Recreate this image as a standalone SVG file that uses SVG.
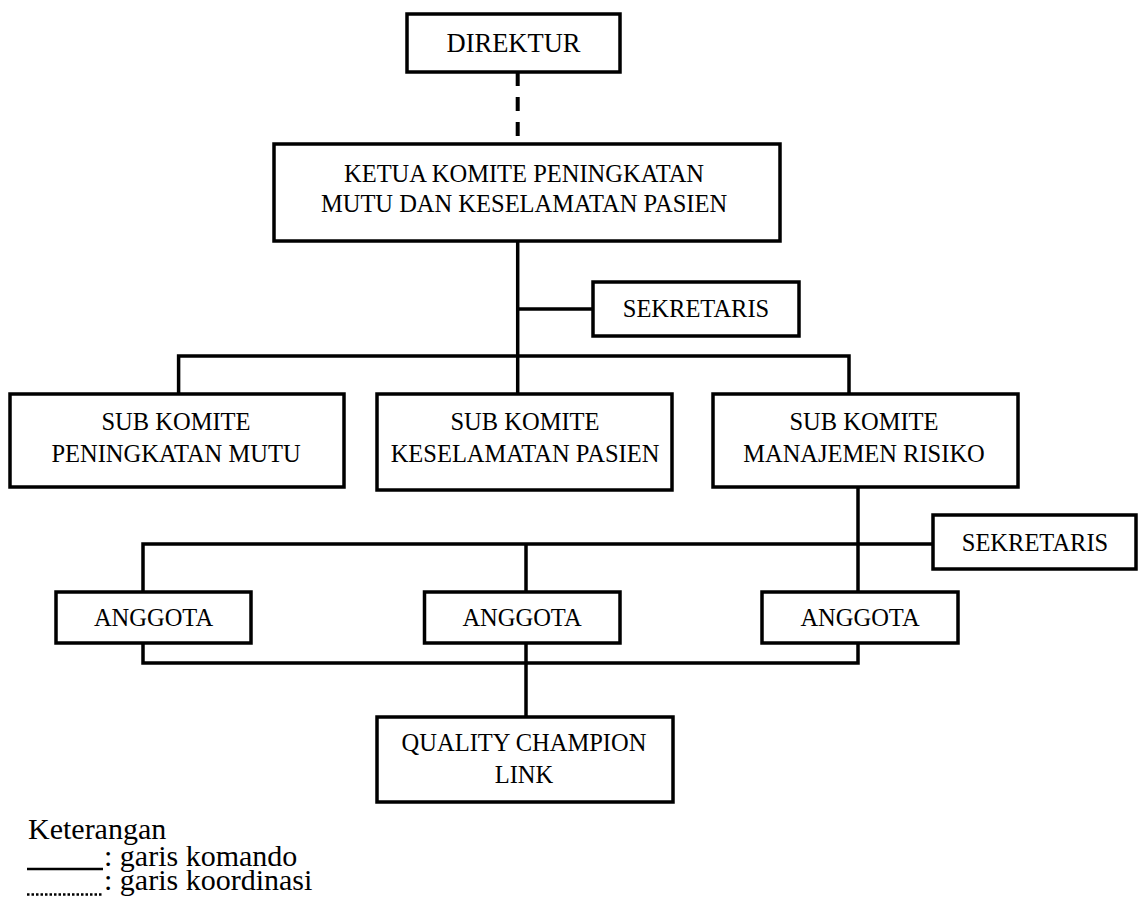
<svg xmlns="http://www.w3.org/2000/svg" width="1138" height="898" viewBox="0 0 1138 898">
<style>
.box{fill:#fff;stroke:#000;stroke-width:3.5}
.ln{fill:none;stroke:#000;stroke-width:3.5;stroke-linecap:butt}
.dash{fill:none;stroke:#000;stroke-width:4;stroke-dasharray:14 11}
.t{font-family:"Liberation Serif","Times New Roman",serif;font-size:24.5px;fill:#000;text-anchor:middle}
.lg{font-family:"Liberation Serif","Times New Roman",serif;font-size:30px;fill:#000}
</style>
<rect width="1138" height="898" fill="#fff"/>
<g id="connectors">
<line class="dash" x1="517.7" y1="72" x2="517.7" y2="144"/>
<line class="ln" x1="517.7" y1="241" x2="517.7" y2="394"/>
<line class="ln" x1="517.7" y1="309" x2="593" y2="309"/>
<polyline class="ln" points="178.6,394 178.6,356 849,356 849,394"/>
<line class="ln" x1="858" y1="487" x2="858" y2="592"/>
<polyline class="ln" points="143,592 143,544 933,544"/>
<line class="ln" x1="526" y1="544" x2="526" y2="592"/>
<polyline class="ln" points="143,643 143,663 858,663 858,643"/>
<line class="ln" x1="526" y1="643" x2="526" y2="717"/>
</g>
<g id="direktur">
<rect class="box" x="407" y="14" width="213" height="58"/>
<text class="t" x="513.5" y="52" style="font-size:26.5px">DIREKTUR</text>
</g>
<g id="ketua">
<rect class="box" x="274" y="144" width="506" height="97"/>
<text class="t" x="524" y="181.7">KETUA KOMITE PENINGKATAN</text>
<text class="t" x="524" y="211.7">MUTU DAN KESELAMATAN PASIEN</text>
</g>
<g id="sekretaris1">
<rect class="box" x="593" y="282" width="206" height="54"/>
<text class="t" x="696" y="317">SEKRETARIS</text>
</g>
<g id="sub-mutu">
<rect class="box" x="10" y="394" width="334" height="93"/>
<text class="t" x="176" y="430">SUB KOMITE</text>
<text class="t" x="176" y="461.7">PENINGKATAN MUTU</text>
</g>
<g id="sub-keselamatan">
<rect class="box" x="377" y="394" width="295" height="96"/>
<text class="t" x="525" y="430">SUB KOMITE</text>
<text class="t" x="525" y="461.7">KESELAMATAN PASIEN</text>
</g>
<g id="sub-risiko">
<rect class="box" x="713" y="394" width="305" height="93"/>
<text class="t" x="864" y="430">SUB KOMITE</text>
<text class="t" x="864" y="461.7">MANAJEMEN RISIKO</text>
</g>
<g id="sekretaris2">
<rect class="box" x="933" y="515" width="203" height="54"/>
<text class="t" x="1035" y="550.7">SEKRETARIS</text>
</g>
<g id="anggota1">
<rect class="box" x="56" y="592" width="195" height="51"/>
<text class="t" x="153.5" y="626">ANGGOTA</text>
</g>
<g id="anggota2">
<rect class="box" x="424.5" y="592" width="195.5" height="51"/>
<text class="t" x="522" y="626">ANGGOTA</text>
</g>
<g id="anggota3">
<rect class="box" x="762" y="592" width="196" height="51"/>
<text class="t" x="860" y="626">ANGGOTA</text>
</g>
<g id="quality-champion">
<rect class="box" x="377" y="717" width="296" height="85"/>
<text class="t" x="524" y="751">QUALITY CHAMPION</text>
<text class="t" x="524" y="783">LINK</text>
</g>
<g id="legend">
<text class="lg" x="28" y="839">Keterangan</text>
<line x1="27" y1="869" x2="103" y2="869" stroke="#000" stroke-width="2.5"/>
<text class="lg" x="104" y="866">: garis komando</text>
<line x1="27" y1="894.5" x2="103" y2="894.5" stroke="#000" stroke-width="2.5" stroke-dasharray="2.5 2"/>
<text class="lg" x="104" y="890">: garis koordinasi</text>
</g>
</svg>
